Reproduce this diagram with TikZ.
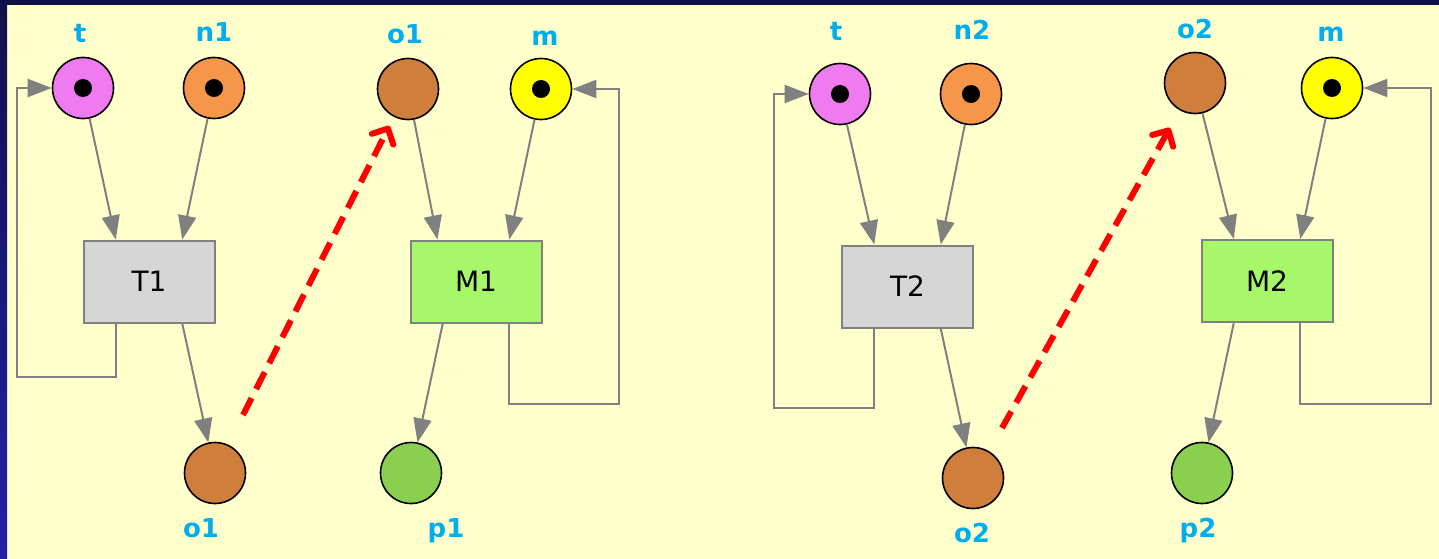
\documentclass[tikz,border=0pt]{standalone}
\usepackage{fontspec}
\setmainfont{DejaVu Sans}
\usetikzlibrary{arrows.meta,calc}
\definecolor{bgc}{RGB}{255,255,204}
\definecolor{navy}{RGB}{16,16,74}
\definecolor{bluec}{RGB}{34,34,170}
\definecolor{labc}{RGB}{0,174,239}
\definecolor{pinkc}{RGB}{240,122,240}
\definecolor{orangec}{RGB}{247,150,72}
\definecolor{brownc}{RGB}{208,126,60}
\definecolor{greenc}{RGB}{138,208,78}
\definecolor{yellowc}{RGB}{255,255,0}
\definecolor{boxgray}{RGB}{214,214,214}
\definecolor{boxgreen}{RGB}{166,247,106}
\definecolor{arcc}{RGB}{128,128,128}
\tikzset{
  place/.style={circle,draw=black,line width=1.6pt,minimum size=61pt,inner sep=0pt},
  trans/.style={rectangle,draw=arcc,line width=2pt,minimum width=131pt,minimum height=82pt,inner sep=0pt,font=\fontsize{28}{28}\selectfont},
  lab/.style={text=labc,font=\bfseries\fontsize{26}{26}\selectfont,anchor=base,inner sep=0pt},
  arc/.style={draw=arcc,line width=2pt,-{Triangle[length=24pt,width=18pt]}},
  reddash/.style={draw=red,line width=6pt,dash pattern=on 19pt off 10pt,-{Straight Barb[length=12pt,width=24pt,round]}},
}
\begin{document}
\begin{tikzpicture}[x=1pt,y=-1pt]
\useasboundingbox (0,0) rectangle (1439,559);
\fill[bgc] (0,0) rectangle (1439,559);
\shade[top color=navy,bottom color=bluec] (0,0) rectangle (7,559);
\fill[navy] (0,0) rectangle (1439,5);

% ---------- left net ----------
\node[place,fill=pinkc] (t1) at (83,88) {};
\node[place,fill=orangec] (n1) at (214,88) {};
\node[place,fill=brownc] (o1t) at (408,89) {};
\node[place,fill=yellowc] (m1) at (541,89) {};
\node[place,fill=brownc] (o1b) at (215,473) {};
\node[place,fill=greenc] (p1) at (411,473) {};
\fill (t1) circle (9);
\fill (n1) circle (9);
\fill (m1) circle (9);
\node[trans,fill=boxgray] (T1) at (149,281.5) {T1};
\node[trans,fill=boxgreen] (M1) at (476,281.5) {M1};

\node[lab] (lt1) at (80,43) {t};
\node[lab] (ln1) at (214,42) {n1};
\node[lab] (lo1t) at (405,44) {o1};
\node[lab] (lm1) at (545,46) {m};
\node[lab] (lo1b) at (201,537) {o1};
\node[lab] (lp1) at (446,537) {p1};

\draw[arc] (t1) -- ($(T1.north)!.5!(T1.north west)$);
\draw[arc] (n1) -- ($(T1.north)!.5!(T1.north east)$);
\draw[arc] ($(T1.south)!.5!(T1.south east)$) -- (o1b);
\coordinate (L1) at (17,377);
\draw[arc] ($(T1.south)!.5!(T1.south west)$) |- (L1) |- (t1);
\draw[arc] (o1t) -- ($(M1.north)!.58!(M1.north west)$);
\draw[arc] (m1) -- ($(M1.north)!.5!(M1.north east)$);
\draw[arc] ($(M1.south)!.5!(M1.south west)$) -- (p1);
\coordinate (L2) at (619,404);
\draw[arc] ($(M1.south)!.5!(M1.south east)$) |- (L2) |- (m1);
\coordinate (r1) at (243,415);
\draw[reddash,shorten >=10pt] (r1) -- (o1t);

% ---------- right net ----------
\node[place,fill=pinkc] (t2) at (840,94) {};
\node[place,fill=orangec] (n2) at (971,94) {};
\node[place,fill=brownc] (o2t) at (1195,83) {};
\node[place,fill=yellowc] (m2) at (1332,88) {};
\node[place,fill=brownc] (o2b) at (973,478) {};
\node[place,fill=greenc] (p2) at (1202,473) {};
\fill (t2) circle (9);
\fill (n2) circle (9);
\fill (m2) circle (9);
\node[trans,fill=boxgray] (T2) at (907.5,286.5) {T2};
\node[trans,fill=boxgreen] (M2) at (1267,281) {M2};

\node[lab] (lt2) at (836,41) {t};
\node[lab] (ln2) at (972,40) {n2};
\node[lab] (lo2t) at (1195,39) {o2};
\node[lab] (lm2) at (1331,42) {m};
\node[lab] (lo2b) at (972,542) {o2};
\node[lab] (lp2) at (1198,537) {p2};

\draw[arc] (t2) -- ($(T2.north)!.5!(T2.north west)$);
\draw[arc] (n2) -- ($(T2.north)!.5!(T2.north east)$);
\draw[arc] ($(T2.south)!.5!(T2.south east)$) -- (o2b);
\coordinate (L3) at (774,408);
\draw[arc] ($(T2.south)!.5!(T2.south west)$) |- (L3) |- (t2);
\draw[arc] (o2t) -- ($(M2.north)!.5!(M2.north west)$);
\draw[arc] (m2) -- ($(M2.north)!.5!(M2.north east)$);
\draw[arc] ($(M2.south)!.5!(M2.south west)$) -- (p2);
\coordinate (L4) at (1431,404);
\draw[arc] ($(M2.south)!.5!(M2.south east)$) |- (L4) |- (m2);
\coordinate (r2) at (1002,428);
\draw[reddash,shorten >=20pt] (r2) -- (o2t);
\end{tikzpicture}
\end{document}
